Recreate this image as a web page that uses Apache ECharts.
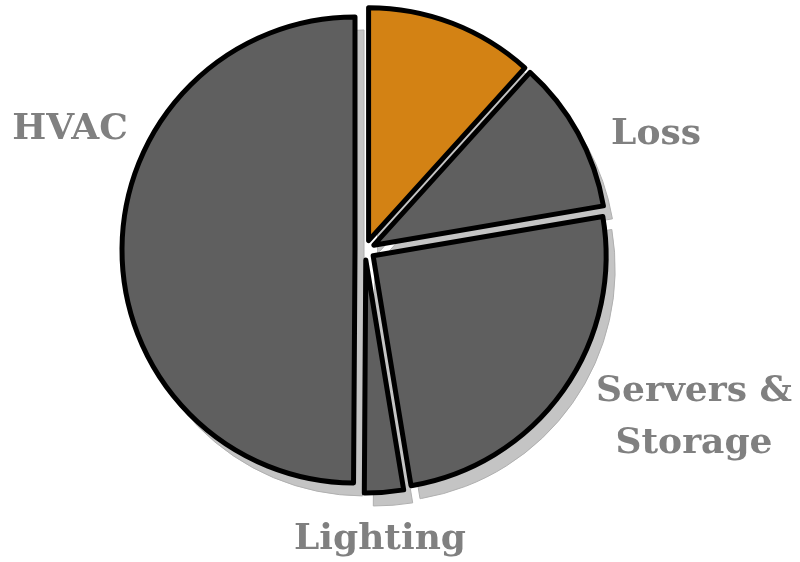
<!DOCTYPE html>
<html>
<head>
<meta charset="utf-8">
<script src="https://cdn.jsdelivr.net/npm/echarts@6/dist/echarts.min.js"></script>
<style>html,body{margin:0;padding:0;background:#fff}#c{width:800px;height:562px}</style>
</head>
<body>
<div id="c"></div>
<script>
var categories = ['Other', 'Loss', 'Servers &\nStorage', 'Lighting', 'HVAC'];
var values = [11.7, 10.6, 25.1, 2.7, 49.9];
var showLabel = [false, true, true, true, true];

var colors = ['#d38214', '#5f5f5f', '#5f5f5f', '#5f5f5f', '#5f5f5f'];
var labelPos = [null, [656, 135], [694, 418], [380, 540], [70, 130]];

var CX = 365, CY = 250, R = 233;

var graphics = [];
categories.forEach(function (c, i) {
  if (!showLabel[i]) return;
  graphics.push({
    type: 'text',
    x: labelPos[i][0],
    y: labelPos[i][1],
    silent: true,
    style: {
      text: c,
      fontFamily: 'DejaVu Serif',
      fontWeight: 'bold',
      fontSize: 36,
      lineHeight: 52,
      fill: '#808080',
      align: 'center',
      verticalAlign: 'middle'
    }
  });
});

function pieData(shadow) {
  return categories.map(function (c, i) {
    return {
      name: c,
      value: values[i],
      selected: true,
      itemStyle: shadow ? {color: '#c4c4c4', borderColor: '#b0b0b0', borderWidth: 1} : {color: colors[i]}
    };
  });
}

var common = {
  type: 'pie',
  radius: [0, R],
  startAngle: 90,
  clockwise: true,
  selectedMode: 'multiple',
  selectedOffset: 10,
  emphasis: {disabled: true},
  label: {show: false},
  labelLine: {show: false}
};

var chart = echarts.init(document.getElementById('c'), null, {renderer: 'canvas'});
chart.setOption({
  animation: false,
  backgroundColor: '#ffffff',
  graphic: graphics,
  series: [
    Object.assign({}, common, {
      name: 'shadow',
      silent: true,
      z: 1,
      center: [CX + 9, CY + 13],
      data: pieData(true)
    }),
    Object.assign({}, common, {
      name: 'main',
      z: 2,
      center: [CX, CY],
      itemStyle: {borderColor: '#000', borderWidth: 5},
      data: pieData(false)
    })
  ]
});
</script>
</body>
</html>
